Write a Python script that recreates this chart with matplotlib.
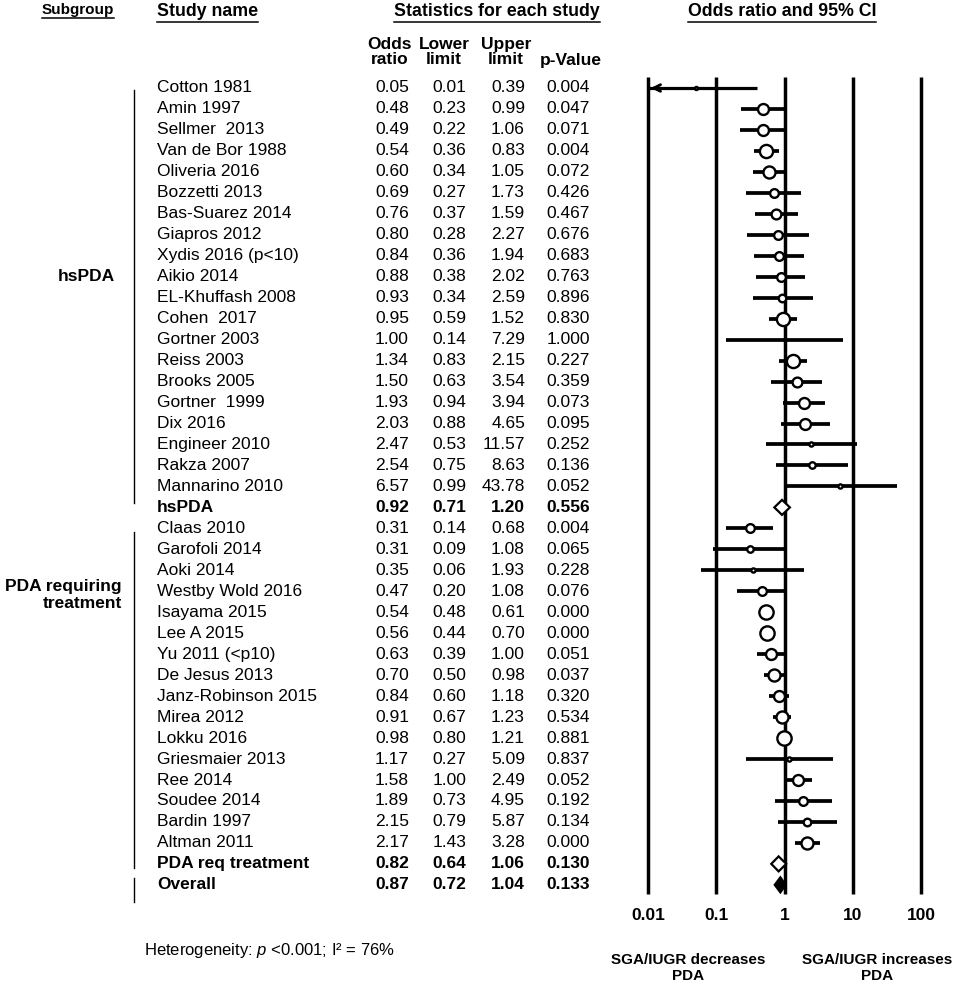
import matplotlib
matplotlib.use("Agg")
import matplotlib.pyplot as plt
import numpy as np

plt.rcParams['font.family'] = ['Liberation Sans', 'DejaVu Sans']
plt.rcParams['mathtext.fontset'] = 'custom'
plt.rcParams['mathtext.rm'] = 'Liberation Sans'
plt.rcParams['mathtext.it'] = 'Liberation Sans:italic'

# ---------------- data ----------------
hs_names = ["Cotton 1981", "Amin 1997", "Sellmer  2013", "Van de Bor 1988", "Oliveria 2016",
            "Bozzetti 2013", "Bas-Suarez 2014", "Giapros 2012", "Xydis 2016 (p<10)", "Aikio 2014",
            "EL-Khuffash 2008", "Cohen  2017", "Gortner 2003", "Reiss 2003", "Brooks 2005",
            "Gortner  1999", "Dix 2016", "Engineer 2010", "Rakza 2007", "Mannarino 2010"]
hs_or = [0.05, 0.48, 0.49, 0.54, 0.60, 0.69, 0.76, 0.80, 0.84, 0.88,
         0.93, 0.95, 1.00, 1.34, 1.50, 1.93, 2.03, 2.47, 2.54, 6.57]
hs_lo = [0.01, 0.23, 0.22, 0.36, 0.34, 0.27, 0.37, 0.28, 0.36, 0.38,
         0.34, 0.59, 0.14, 0.83, 0.63, 0.94, 0.88, 0.53, 0.75, 0.99]
hs_hi = [0.39, 0.99, 1.06, 0.83, 1.05, 1.73, 1.59, 2.27, 1.94, 2.02,
         2.59, 1.52, 7.29, 2.15, 3.54, 3.94, 4.65, 11.57, 8.63, 43.78]
hs_p = ["0.004", "0.047", "0.071", "0.004", "0.072", "0.426", "0.467", "0.676", "0.683", "0.763",
        "0.896", "0.830", "1.000", "0.227", "0.359", "0.073", "0.095", "0.252", "0.136", "0.052"]
hs_weight = [4, 11, 11, 13, 12, 9, 10, 9, 9, 9, 8, 13, 3, 13, 10, 11, 11, 5, 7, 5]

tr_names = ["Claas 2010", "Garofoli 2014", "Aoki 2014", "Westby Wold 2016", "Isayama 2015",
            "Lee A 2015", "Yu 2011 (<p10)", "De Jesus 2013", "Janz-Robinson 2015", "Mirea 2012",
            "Lokku 2016", "Griesmaier 2013", "Ree 2014", "Soudee 2014", "Bardin 1997", "Altman 2011"]
tr_or = [0.31, 0.31, 0.35, 0.47, 0.54, 0.56, 0.63, 0.70, 0.84, 0.91, 0.98, 1.17, 1.58, 1.89, 2.15, 2.17]
tr_lo = [0.14, 0.09, 0.06, 0.20, 0.48, 0.44, 0.39, 0.50, 0.60, 0.67, 0.80, 0.27, 1.00, 0.73, 0.79, 1.43]
tr_hi = [0.68, 1.08, 1.93, 1.08, 0.61, 0.70, 1.00, 0.98, 1.18, 1.23, 1.21, 5.09, 2.49, 4.95, 5.87, 3.28]
tr_p = ["0.004", "0.065", "0.228", "0.076", "0.000", "0.000", "0.051", "0.037", "0.320", "0.534",
        "0.881", "0.837", "0.052", "0.192", "0.134", "0.000"]
tr_weight = [9, 7, 5, 9, 14, 14, 11, 12, 11, 12, 14, 5, 11, 9, 8, 12]

summary_names = ["hsPDA", "PDA req treatment", "Overall"]
summary_or = [0.92, 0.82, 0.87]
summary_lo = [0.71, 0.64, 0.72]
summary_hi = [1.20, 1.06, 1.04]
summary_p = ["0.556", "0.130", "0.133"]

tick_vals = [0.01, 0.1, 1, 10, 100]
tick_labels = ["0.01", "0.1", "1", "10", "100"]

# ---------------- layout ----------------
W, H = 957, 985
fig = plt.figure(figsize=(W / 100, H / 100), dpi=100)
ax_t = fig.add_axes([0, 0, 1, 1])
ax_t.set_xlim(0, W)
ax_t.set_ylim(H, 0)
ax_t.axis('off')

Y0, DY = 88.0, 20.97
def rowpx(i):
    return Y0 + i * DY

rows = []
for i in range(len(hs_names)):
    rows.append(dict(name=hs_names[i], o=hs_or[i], l=hs_lo[i], h=hs_hi[i], p=hs_p[i], w=hs_weight[i], kind='study'))
rows.append(dict(name=summary_names[0], o=summary_or[0], l=summary_lo[0], h=summary_hi[0], p=summary_p[0], kind='sum'))
for i in range(len(tr_names)):
    rows.append(dict(name=tr_names[i], o=tr_or[i], l=tr_lo[i], h=tr_hi[i], p=tr_p[i], w=tr_weight[i], kind='study'))
rows.append(dict(name=summary_names[1], o=summary_or[1], l=summary_lo[1], h=summary_hi[1], p=summary_p[1], kind='sum'))
rows.append(dict(name=summary_names[2], o=summary_or[2], l=summary_lo[2], h=summary_hi[2], p=summary_p[2], kind='overall'))

FS = 12.5
col_name = 157
col_or, col_lo, col_hi, col_p = 409, 466, 525, 590
for i, r in enumerate(rows):
    y = rowpx(i)
    fw = 'normal' if r['kind'] == 'study' else 'bold'
    ax_t.text(col_name, y, r['name'], fontsize=FS, fontweight=fw, ha='left', va='center')
    ax_t.text(col_or, y, f"{r['o']:.2f}", fontsize=FS, fontweight=fw, ha='right', va='center')
    ax_t.text(col_lo, y, f"{r['l']:.2f}", fontsize=FS, fontweight=fw, ha='right', va='center')
    ax_t.text(col_hi, y, f"{r['h']:.2f}", fontsize=FS, fontweight=fw, ha='right', va='center')
    ax_t.text(col_p, y, r['p'], fontsize=FS, fontweight=fw, ha='right', va='center')

# headers (underlined)
headers = [("Subgroup", 78, 10, 11), ("Study name", 157, 12, 12.8),
           ("Statistics for each study", 497, 12, 12.8), ("Odds ratio and 95% CI", 782, 12, 12.8)]
htexts = []
for txt, x, y, fs in headers:
    ha = 'left' if txt == "Study name" else 'center'
    t = ax_t.text(x, y, txt, fontsize=fs, fontweight='bold', ha=ha, va='center')
    htexts.append(t)

sub = [("Odds\nratio", 390), ("Lower\nlimit", 444), ("Upper\nlimit", 506), ("p-Value", 571)]
for txt, x in sub:
    if "\n" in txt:
        ax_t.text(x, 52, txt, fontsize=FS, fontweight='bold', ha='center', va='center',
                  multialignment='center', linespacing=1.02)
    else:
        ax_t.text(x, 60, txt, fontsize=FS, fontweight='bold', ha='center', va='center')

# subgroup labels and bracket lines
ax_t.text(115, rowpx(9), "hsPDA", fontsize=FS, fontweight='bold', ha='right', va='center')
ax_t.text(122, 595, "PDA requiring\ntreatment", fontsize=FS, fontweight='bold', ha='right',
          va='center', multialignment='right', linespacing=1.1)
for y1, y2 in [(90, 503), (532, 868), (878, 902)]:
    ax_t.plot([134, 134], [y1, y2], color='black', lw=1.0)

# heterogeneity + direction labels
ax_t.text(144, 950, "Heterogeneity: $\\mathit{p}$ <0.001; I² = 76%", fontsize=12, ha='left', va='center')
ax_t.text(688, 968, "SGA/IUGR decreases\nPDA", fontsize=11, fontweight='bold', ha='center',
          va='center', multialignment='center', linespacing=1.25)
ax_t.text(877, 968, "SGA/IUGR increases\nPDA", fontsize=11, fontweight='bold', ha='center',
          va='center', multialignment='center', linespacing=1.25)

# ---------------- forest axes ----------------
xl, xr = 648, 921
ytop, ybot = 77, 894
ax = fig.add_axes([xl / W, 1 - ybot / H, (xr - xl) / W, (ybot - ytop) / H])
ax.set_xscale('log')
ax.set_xlim(0.01, 100)
ax.set_ylim((ybot - Y0) / DY, (ytop - Y0) / DY)
for s in ax.spines.values():
    s.set_visible(False)
ax.patch.set_alpha(0)
ax.set_yticks([])
ax.set_xticks(tick_vals)
ax.set_xticklabels(tick_labels, fontsize=12.5, fontweight='bold')
ax.xaxis.set_minor_locator(matplotlib.ticker.NullLocator())
ax.tick_params(axis='x', length=0, pad=10)
for v in tick_vals:
    ax.axvline(v, color='black', lw=2.5, zorder=1, clip_on=False, solid_capstyle='butt')

PX = 72 / 100  # points per pixel
for i, r in enumerate(rows):
    if r['kind'] == 'study':
        if r['l'] <= 0.01:
            ax.plot([r['l'] * 1.05, r['h']], [i, i], color='black', lw=2.3, zorder=2,
                    solid_capstyle='butt', clip_on=False)
            ax.annotate('', xy=(r['l'], i), xytext=(r['l'] * 1.6, i),
                        arrowprops=dict(arrowstyle='->', lw=2.0, color='black', mutation_scale=12),
                        zorder=2, annotation_clip=False)
        else:
            ax.plot([r['l'], r['h']], [i, i], color='black', lw=2.7, zorder=2, solid_capstyle='butt')
        ms = max(r['w'] * 1.12 * PX - 1.0, 1.5)
        ax.plot(r['o'], i, 'o', ms=ms, mfc='white', mec='black', mew=1.7, zorder=3)
    else:
        hh = 7.5 / DY
        xs = [r['l'], r['o'], r['h'], r['o'], r['l']]
        ys = [i, i - hh, i, i + hh, i]
        fc = 'black' if r['kind'] == 'overall' else 'white'
        ax.fill(xs, ys, facecolor=fc, edgecolor='black', lw=1.6, zorder=3)

# underline headers
fig.canvas.draw()
rend = fig.canvas.get_renderer()
inv = ax_t.transData.inverted()
for t in htexts:
    bb = t.get_window_extent(renderer=rend)
    (x0, yb), (x1, _) = inv.transform([(bb.x0, bb.y0), (bb.x1, bb.y1)])
    ax_t.plot([x0, x1], [yb + 1, yb + 1], color='black', lw=1.1)

fig.savefig("out.png", dpi=100, facecolor='white')
